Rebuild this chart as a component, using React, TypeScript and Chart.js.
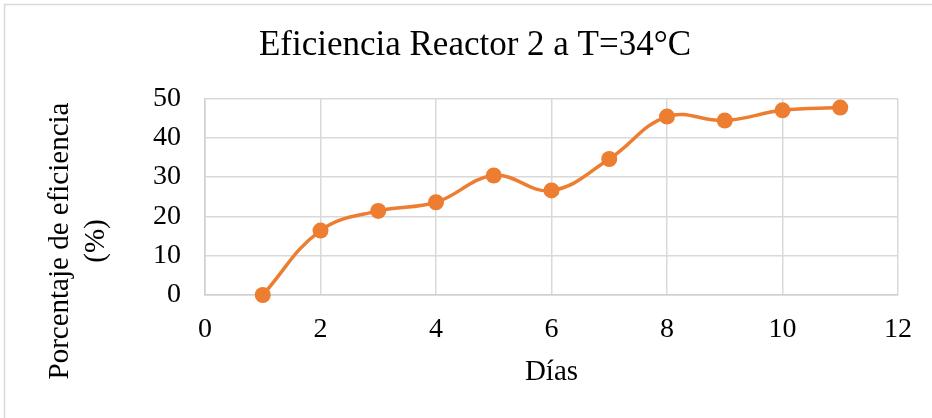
import React, { useEffect, useRef } from "react";
import { Chart, registerables } from "chart.js";

Chart.register(...registerables);

// Días de operación y eficiencia medida (%)
const dias = [1, 2, 3, 4, 5, 6, 7, 8, 9, 10, 11];
const eficiencia = [0, 16.4, 21.4, 23.6, 30.4, 26.6, 34.6, 45.4, 44.4, 47.0, 47.7];

const titulo = "Eficiencia Reactor 2 a T=34°C";
const tituloX = "Días";
const tituloY = ["Porcentaje de eficiencia", "(%)"];

const FONT = "'Liberation Serif', 'Times New Roman', serif";
const NARANJA = "#ED7D31";
const GRIS = "#d9d9d9";

// Borde exterior y título vertical en dos líneas
const decoracion = {
  id: "decoracion",
  beforeDraw(chart: any) {
    const { ctx } = chart;
    ctx.save();
    ctx.strokeStyle = GRIS;
    ctx.lineWidth = 1.5;
    ctx.beginPath();
    ctx.moveTo(4.5, chart.height);
    ctx.lineTo(4.5, 4.5);
    ctx.lineTo(chart.width, 4.5);
    ctx.stroke();
    ctx.restore();
  },
  afterDraw(chart: any) {
    const { ctx } = chart;
    ctx.save();
    ctx.fillStyle = "#000";
    ctx.font = `29px ${FONT}`;
    ctx.textAlign = "center";
    ctx.textBaseline = "middle";
    const xs = [60, 96];
    tituloY.forEach((linea, i) => {
      ctx.save();
      ctx.translate(xs[i], 241);
      ctx.rotate(-Math.PI / 2);
      ctx.fillText(linea, 0, 0);
      ctx.restore();
    });
    ctx.restore();
  },
};

export default function App() {
  const ref = useRef<HTMLCanvasElement | null>(null);

  useEffect(() => {
    if (!ref.current) return;
    const chart = new Chart(ref.current, {
      type: "scatter",
      data: {
        datasets: [
          {
            data: dias.map((d, i) => ({ x: d, y: eficiencia[i] })),
            showLine: true,
            borderColor: NARANJA,
            backgroundColor: NARANJA,
            borderWidth: 3.5,
            pointRadius: 8,
            pointHoverRadius: 8,
            pointBorderWidth: 0,
            pointBackgroundColor: NARANJA,
            tension: 0.4,
            clip: false as any,
          },
        ],
      },
      options: {
        animation: false,
        responsive: true,
        maintainAspectRatio: false,
        layout: { padding: { left: 52, right: 34, top: 0, bottom: 0 } },
        plugins: {
          legend: { display: false },
          tooltip: { enabled: false },
          title: {
            display: true,
            text: titulo,
            color: "#000",
            font: { family: FONT, size: 35, weight: "normal" },
            padding: { top: 25, bottom: 31.5 },
          },
        },
        scales: {
          x: {
            type: "linear",
            min: 0,
            max: 12,
            ticks: {
              stepSize: 2,
              color: "#000",
              padding: 18,
              font: { family: FONT, size: 28 },
            },
            grid: { color: GRIS, lineWidth: 1.5, drawTicks: false },
            border: { color: "#d0d0d0", width: 1.5 },
            title: {
              display: true,
              text: tituloX,
              color: "#000",
              font: { family: FONT, size: 29 },
              padding: { top: 0, bottom: 28 },
            },
            afterFit(scale: any) {
              scale.height = 123;
            },
          },
          y: {
            min: 0,
            max: 50,
            ticks: {
              stepSize: 10,
              color: "#000",
              padding: 24,
              font: { family: FONT, size: 28 },
            },
            grid: { color: GRIS, lineWidth: 1.5, drawTicks: false },
            border: { color: "#d0d0d0", width: 1.5 },
            afterFit(scale: any) {
              scale.width = 153;
            },
          },
        },
      },
      plugins: [decoracion],
    });
    return () => chart.destroy();
  }, []);

  return (
    <div
      style={{
        position: "fixed",
        left: 0,
        top: 0,
        width: 932,
        height: 418,
        background: "#fff",
      }}
    >
      <canvas ref={ref} />
    </div>
  );
}
